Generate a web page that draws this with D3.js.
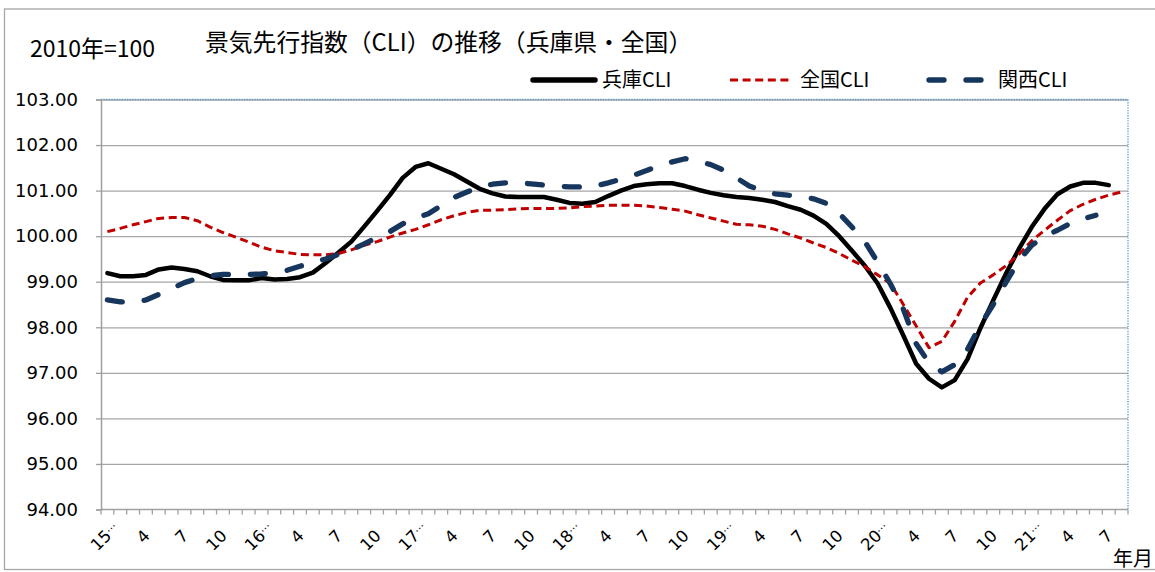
<!DOCTYPE html>
<html lang="ja">
<head>
<meta charset="UTF-8">
<title>景気先行指数（CLI）の推移</title>
<script src="https://cdnjs.cloudflare.com/ajax/libs/d3/7.8.5/d3.min.js"></script>
<style>
  body { margin: 0; background: #fff; }
  svg { display: block; }
  .jp { font-family: "Noto Sans CJK JP", "Noto Sans", sans-serif; fill: #000; }
  .num { font-family: "DejaVu Sans", "Noto Sans CJK JP", sans-serif; fill: #000; }
</style>
</head>
<body>
<svg id="chart" width="1155" height="572"></svg>
<script>
// 2015年1月 ～ 2021年8月 (80か月)
const monthCount = 80;
const tickLabels = ["15…","4","7","10","16…","4","7","10","17…","4","7","10",
                    "18…","4","7","10","19…","4","7","10","20…","4","7","10",
                    "21…","4","7"];

// 兵庫CLI (2015/1 - 2021/7)
const hyogo = [99.19,99.12,99.12,99.15,99.27,99.31,99.28,99.23,99.12,99.04,99.03,99.03,
               99.08,99.05,99.06,99.10,99.20,99.41,99.64,99.88,100.21,100.55,100.90,101.28,
               101.52,101.60,101.48,101.36,101.20,101.04,100.94,100.87,100.86,100.86,100.86,100.80,
               100.73,100.71,100.75,100.88,101.00,101.10,101.14,101.16,101.16,101.10,101.02,100.95,
               100.90,100.86,100.84,100.80,100.75,100.66,100.58,100.45,100.27,100.00,99.68,99.35,
               98.96,98.42,97.82,97.20,96.87,96.68,96.84,97.30,97.98,98.59,99.18,99.72,
               100.20,100.60,100.92,101.09,101.17,101.17,101.12];

// 全国CLI (2015/1 - 2021/8)
const zenkoku = [100.10,100.17,100.25,100.32,100.39,100.41,100.41,100.34,100.20,100.08,99.98,99.87,
                 99.76,99.68,99.64,99.60,99.59,99.59,99.62,99.70,99.80,99.88,99.98,100.07,
                 100.15,100.25,100.36,100.45,100.52,100.57,100.57,100.58,100.60,100.61,100.61,100.61,
                 100.62,100.65,100.66,100.68,100.68,100.68,100.66,100.63,100.59,100.55,100.47,100.40,
                 100.33,100.26,100.25,100.22,100.15,100.05,99.96,99.85,99.75,99.62,99.47,99.33,
                 99.15,98.96,98.50,98.03,97.55,97.69,98.13,98.66,98.97,99.15,99.35,99.60,
                 99.90,100.13,100.35,100.56,100.70,100.81,100.90,100.97];

// 関西CLI (2015/1 - 2021/6)
const kansai = [98.60,98.56,98.55,98.60,98.72,98.85,98.98,99.07,99.13,99.16,99.16,99.16,
                99.17,99.20,99.25,99.34,99.42,99.50,99.60,99.70,99.83,99.97,100.10,100.27,
                100.40,100.49,100.67,100.85,100.97,101.08,101.14,101.17,101.17,101.15,101.12,101.10,
                101.08,101.08,101.10,101.17,101.25,101.34,101.44,101.55,101.63,101.70,101.65,101.57,
                101.45,101.28,101.10,101.00,100.93,100.90,100.88,100.82,100.72,100.50,100.20,99.88,
                99.43,98.95,98.40,97.64,97.22,97.02,97.18,97.52,98.05,98.50,98.99,99.46,
                99.80,100.00,100.13,100.28,100.38,100.46];

const yTicks = [94,95,96,97,98,99,100,101,102,103];

const series = [
  { name: "兵庫CLI", values: hyogo,   color: "#000000", width: 4.5, dash: null,    cap: "round" },
  { name: "全国CLI", values: zenkoku, color: "#c00000", width: 3,   dash: "8,4.6", cap: "butt" },
  { name: "関西CLI", values: kansai,  color: "#17365d", width: 5.3, dash: "15,22", cap: "round" }
];

const svg = d3.select("#chart");
const plotLeft = 101, plotRight = 1128, plotTop = 99.5, plotBottom = 509.5;

const x = d3.scaleBand().domain(d3.range(monthCount)).range([plotLeft, plotRight]).padding(0);
const y = d3.scaleLinear().domain([94, 103]).range([plotBottom, plotTop]);
const cx = i => x(i) + x.bandwidth() / 2;

// outer frame
svg.append("rect").attr("x", 4.5).attr("y", 9).attr("width", 1160).attr("height", 560.5)
  .attr("fill", "none").attr("stroke", "#a6a6a6").attr("stroke-width", 1.3);

// gridlines
svg.append("g")
  .attr("transform", `translate(${plotLeft},0)`)
  .call(d3.axisLeft(y).tickValues(yTicks.slice(1)).tickSize(-(plotRight - plotLeft)).tickFormat(""))
  .call(g => g.select(".domain").remove())
  .call(g => g.selectAll("line").attr("stroke", "#a6a6a6").attr("stroke-width", 1.3));

// plot-area border (top / right), dotted
svg.append("path")
  .attr("d", `M${plotLeft},${plotTop}H${plotRight}V${plotBottom}`)
  .attr("fill", "none").attr("stroke", "#5b9bd5").attr("stroke-width", 1.3)
  .attr("stroke-dasharray", "1.3,1.3");

// y axis
svg.append("g")
  .attr("transform", `translate(${plotLeft},0)`)
  .call(d3.axisLeft(y).tickValues(yTicks).tickSize(5).tickPadding(18).tickFormat(d3.format(".2f")))
  .call(g => g.select(".domain").attr("stroke", "#a0a0a0").attr("stroke-width", 1.5))
  .call(g => g.selectAll("line").attr("stroke", "#a0a0a0").attr("stroke-width", 1.3))
  .call(g => g.selectAll("text").attr("class", "num").attr("font-size", 18))
  .attr("font-family", null).attr("font-size", null);

// x axis line + ticks at band edges
svg.append("line").attr("x1", plotLeft).attr("x2", plotRight).attr("y1", plotBottom).attr("y2", plotBottom)
  .attr("stroke", "#a0a0a0").attr("stroke-width", 1.5);
svg.append("g").selectAll("line")
  .data(d3.range(monthCount + 1))
  .join("line")
  .attr("x1", i => plotLeft + i * x.bandwidth()).attr("x2", i => plotLeft + i * x.bandwidth())
  .attr("y1", plotBottom).attr("y2", plotBottom + 5)
  .attr("stroke", "#a0a0a0").attr("stroke-width", 1.3);

// x tick labels (every 3 months)
const xl = svg.append("g").selectAll("g")
  .data(tickLabels.map((t, k) => ({ t, i: k * 3 })))
  .join("g")
  .attr("transform", d => `translate(${cx(d.i) + 1},533) rotate(-45)`);
xl.append("text")
  .attr("class", "num").attr("font-size", 16.5)
  .attr("text-anchor", "end").attr("dominant-baseline", "central")
  .text(d => d.t.replace("…", ""));
xl.filter(d => d.t.endsWith("…")).append("text")
  .attr("class", "num").attr("font-size", 11)
  .attr("x", 0).attr("y", -4)
  .attr("text-anchor", "start").attr("dominant-baseline", "central")
  .text("…");

// lines
const line = d3.line().x((d, i) => cx(i)).y(d => y(d));
series.forEach(s => {
  svg.append("path")
    .attr("d", line(s.values))
    .attr("fill", "none")
    .attr("stroke", s.color)
    .attr("stroke-width", s.width)
    .attr("stroke-linejoin", "round")
    .attr("stroke-linecap", s.cap)
    .attr("stroke-dasharray", s.dash);
});

// titles
svg.append("text").attr("class", "jp").attr("x", 30).attr("y", 57).attr("font-size", 23)
  .text("2010年=100");
svg.append("text").attr("class", "jp").attr("x", 205).attr("y", 51).attr("font-size", 23.8)
  .text("景気先行指数（CLI）の推移（兵庫県・全国）");
svg.append("text").attr("class", "jp").attr("x", 1113).attr("y", 566).attr("font-size", 20)
  .text("年月");

// legend
const legendPos = [{ x1: 533, x2: 595, tx: 602 }, { x1: 730, x2: 792, tx: 800 }, { x1: 929, x2: 987, tx: 998 }];
series.forEach((s, k) => {
  const p = legendPos[k];
  svg.append("line").attr("x1", p.x1).attr("x2", p.x2).attr("y1", 80).attr("y2", 80)
    .attr("stroke", s.color).attr("stroke-width", k === 0 ? 5.5 : s.width)
    .attr("stroke-linecap", s.cap).attr("stroke-dasharray", s.dash);
  svg.append("text").attr("class", "jp").attr("x", p.tx).attr("y", 87).attr("font-size", 20)
    .text(s.name);
});
</script>
</body>
</html>
